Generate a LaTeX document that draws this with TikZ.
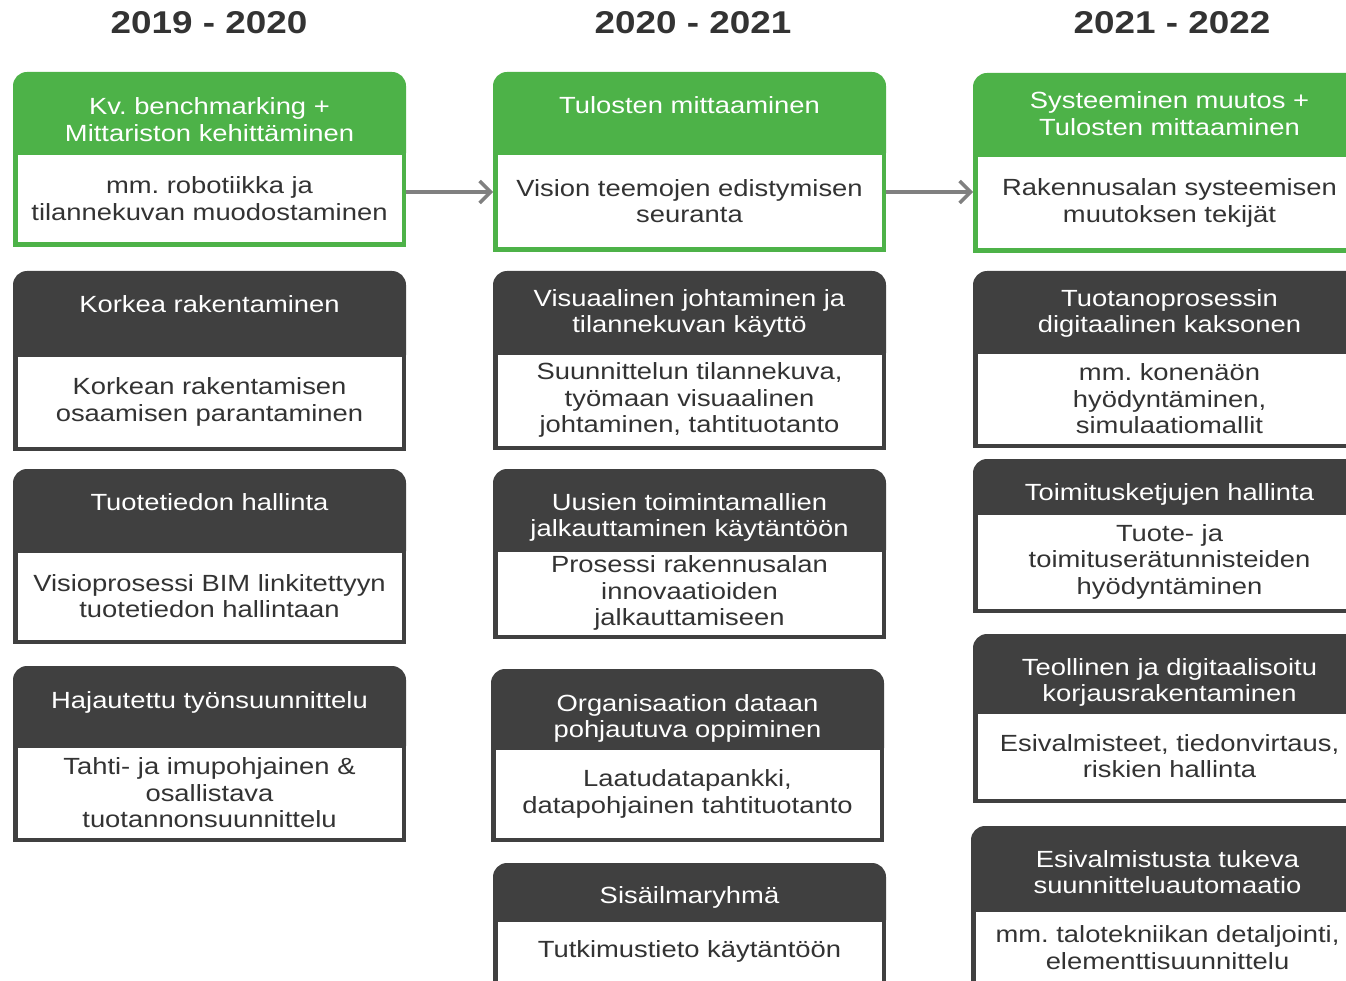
\documentclass[tikz,border=0pt]{standalone}
\usepackage{fontspec}
\setmainfont{Liberation Sans}[FakeStretch=1.17]
\usepackage{tikz}
\usetikzlibrary{arrows.meta}
\frenchspacing
\definecolor{mygreen}{RGB}{77,178,72}
\definecolor{mydark}{RGB}{64,64,64}
\definecolor{mytext}{RGB}{51,51,51}
\definecolor{myarrow}{RGB}{128,128,128}
\newcommand{\widthcard}{393}
\newcommand{\card}[9]{%
    \fill[#6, rounded corners=14pt] (#2,#3) rectangle ++(\widthcard,#4-#3+12);
    \pgfmathsetmacro{\bodyheight}{#5-#4}
    \node[body, draw=#6, minimum height=\bodyheight pt] (#1) at (#2,#4-4.5) {#9};
    \node[head] (#1-head) at (#2+196.5,#7) {#8};
}
\tikzset{
    common/.style={align=center, inner sep=0pt, font=\fontsize{23.4}{26.6}\selectfont},
    head/.style={common, text=white},
    body/.style={common, text=mytext, anchor=north west, fill=white, line width=4.5pt, minimum width=388.5pt},
    year/.style={text=mytext, font=\fontsize{31.5}{33}\selectfont\bfseries},
    flow/.style={draw=myarrow, line width=3.5pt, -{Straight Barb[length=11pt, width=22pt]}}
}
\begin{document}
\begin{tikzpicture}[x=1pt, y=-1pt]
    \useasboundingbox (0,0) rectangle (1346,981);
    \clip (0,0) rectangle (1346,981);

    \node[year] (y1) at (209,23) {2019 - 2020};
    \node[year] (y2) at (693,23) {2020 - 2021};
    \node[year] (y3) at (1172,23) {2021 - 2022};

    % 2019 - 2020
    \card{kv}{13}{72}{155}{247}{mygreen}{119.5}{Kv. benchmarking +\\Mittariston kehittäminen}{mm. robotiikka ja\\tilannekuvan muodostaminen}
    \card{korkea}{13}{271}{357}{451}{mydark}{304}{Korkea rakentaminen}{Korkean rakentamisen\\osaamisen parantaminen}
    \card{tuote}{13}{469}{553}{644}{mydark}{502}{Tuotetiedon hallinta}{Visioprosessi BIM linkitettyyn\\tuotetiedon hallintaan}
    \card{hajaut}{13}{666}{748}{842}{mydark}{702}{Hajautettu työnsuunnittelu}{Tahti- ja imupohjainen \&\\osallistava\\tuotannonsuunnittelu}

    % 2020 - 2021
    \card{tulos}{493}{72}{155}{252}{mygreen}{105}{Tulosten mittaaminen}{Vision teemojen edistymisen\\seuranta}
    \card{visu}{493}{271}{355}{450}{mydark}{313.5}{Visuaalinen johtaminen ja\\tilannekuvan käyttö}{Suunnittelun tilannekuva,\\työmaan visuaalinen\\johtaminen, tahtituotanto}
    \card{uusien}{493}{469}{552}{639}{mydark}{517.5}{Uusien toimintamallien\\jalkauttaminen käytäntöön}{Prosessi rakennusalan\\innovaatioiden\\jalkauttamiseen}
    \card{orga}{491}{669}{750}{842}{mydark}{718.5}{Organisaation dataan\\pohjautuva oppiminen}{Laatudatapankki,\\datapohjainen tahtituotanto}
    \card{sisa}{493}{863}{922}{986}{mydark}{897}{Sisäilmaryhmä}{Tutkimustieto käytäntöön}

    % 2021 - 2022
    \card{syst}{973}{73}{157}{253}{mygreen}{113.5}{Systeeminen muutos +\\Tulosten mittaaminen}{Rakennusalan systeemisen\\muutoksen tekijät}
    \card{twin}{973}{271}{354}{448}{mydark}{313.5}{Tuotanoprosessin\\digitaalinen kaksonen}{mm. konenäön\\hyödyntäminen,\\simulaatiomallit}
    \card{toimit}{973}{459}{515}{613}{mydark}{494}{Toimitusketjujen hallinta}{Tuote- ja\\toimituserätunnisteiden\\hyödyntäminen}
    \card{korjaus}{973}{634}{714}{803}{mydark}{682.5}{Teollinen ja digitaalisoitu\\korjausrakentaminen}{Esivalmisteet, tiedonvirtaus,\\riskien hallinta}
    \card{esival}{971}{826}{912}{988}{mydark}{872}{Esivalmistusta tukeva\\suunnitteluautomaatio}{mm. talotekniikan detaljointi,\\elementtisuunnittelu}

    \coordinate (row) at (0,192);
    \draw[flow] (kv.east |- row) -- (tulos.west |- row);
    \draw[flow] (tulos.east |- row) -- (syst.west |- row);
\end{tikzpicture}
\end{document}
